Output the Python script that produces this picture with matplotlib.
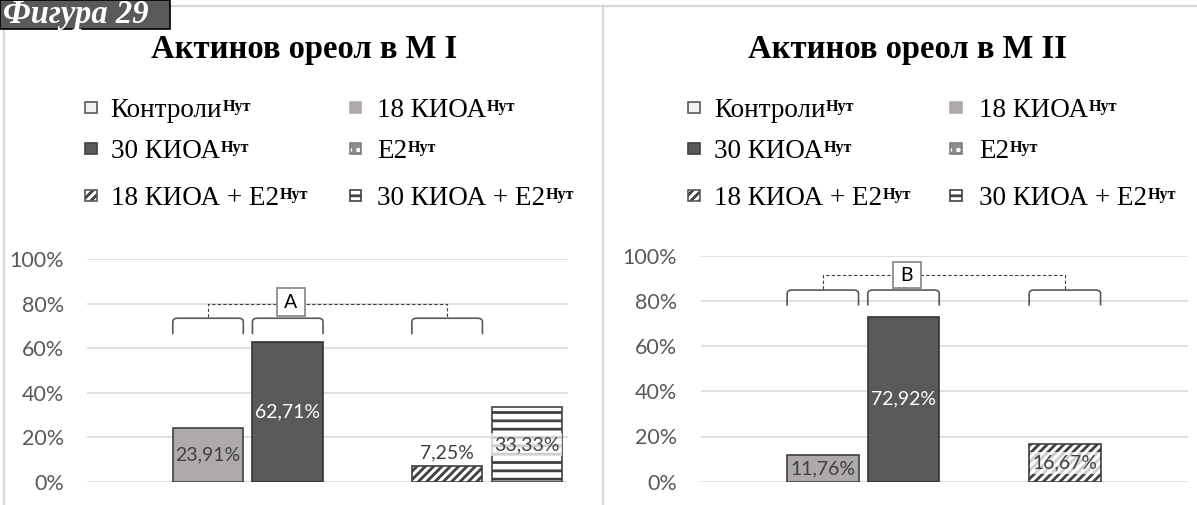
import matplotlib
matplotlib.use("Agg")
import matplotlib.pyplot as plt
from matplotlib.patches import Rectangle, PathPatch
from matplotlib.path import Path
from matplotlib.lines import Line2D

# ---------------- data ----------------
series = ["Контроли", "18 КИОА", "30 КИОА", "E2", "18 КИОА + E2", "30 КИОА + E2"]
superscript = "Нут"
m1_values = [0, 23.91, 62.71, 0, 7.25, 33.33]
m2_values = [0, 11.76, 72.92, 0, 16.67, 0]
panel_titles = ["Актинов ореол в М I", "Актинов ореол в М II"]
group_letters = ["A", "B"]
y_ticks = [0, 20, 40, 60, 80, 100]
figure_label = "Фигура 29"

# ---------------- styles ----------------
SERIF = "Liberation Serif"
SANS = "Lato"
W, H = 1197, 505

# face, hatch, hatch colour, outline colour
bar_styles = [
    ("#f2f2f2", None, None, "#595959"),
    ("#aeaaaa", None, None, "#404040"),
    ("#595959", None, None, "#333333"),
    ("#8c8c8c", "..", "white", "#7f7f7f"),
    ("white", "////", "#404040", "#404040"),
    ("white", "--", "#404040", "#404040"),
]
legend_edges = ["#595959", "#aeaaaa", "#404040", "#7f7f7f", "#595959", "#404040"]

plt.rcParams["hatch.linewidth"] = 2.0
plt.rcParams["axes.unicode_minus"] = False

fig = plt.figure(figsize=(W / 100, H / 100), dpi=100)


def fx(px):
    return px / W


def fy(py):
    return 1 - py / H


# chart frames
for seg in ([(0, 6), (W, 6)], [(4, 0), (4, H)], [(603, 6), (603, H)]):
    fig.add_artist(Line2D([fx(seg[0][0]), fx(seg[1][0])], [fy(seg[0][1]), fy(seg[1][1])],
                          color="#d9d9d9", lw=1.6, transform=fig.transFigure))

# figure caption plate
fig.add_artist(Rectangle((fx(0), fy(29)), fx(170), 29 / H, transform=fig.transFigure,
                         facecolor="#595959", edgecolor="black", lw=1.2, zorder=5))
fig.text(fx(3), fy(22.5), figure_label, family=SERIF, fontsize=23.5, fontweight="bold",
         fontstyle="italic", color="white", va="baseline", ha="left", zorder=6)

BAR_W = 0.885

panels = [
    dict(values=m1_values, rect=(87.3, 568.3, 259, 481.7), title_x=304,
         legend_cols=((85, 110.7), (350, 377)),
         bracket=(73.4, 66.2), conn=80.0, box=(80.6, 12.4, 0.36)),
    dict(values=m2_values, rect=(700.6, 1187.5, 255.7, 481.7), title_x=907,
         legend_cols=((688, 714), (950, 979)),
         bracket=(84.8, 77.9), conn=91.4, box=(91.3, 11.5, 0.35)),
]

legend_rows = [117, 158, 205]

for p_i, p in enumerate(panels):
    x0, x1, ytop, ybot = p["rect"]
    ax = fig.add_axes([fx(x0), fy(ybot), (x1 - x0) / W, (ybot - ytop) / H])
    ax.set_xlim(-0.515, 5.52)
    ax.set_ylim(0, 100)
    for s in ax.spines.values():
        s.set_visible(False)
    ax.set_xticks([])
    ax.set_yticks(y_ticks)
    ax.set_yticklabels([f"{t}%" for t in y_ticks])
    ax.tick_params(axis="y", length=0, pad=17, labelcolor="#595959", labelsize=15.5)
    for lab in ax.get_yticklabels():
        lab.set_family(SANS)
    ax.grid(axis="y", color="#d9d9d9", lw=1.1)
    ax.set_axisbelow(True)

    # bars
    for i, v in enumerate(p["values"]):
        if v <= 0:
            continue
        face, hatch, hcol, edge = bar_styles[i]
        if hatch:
            ax.bar(i, v, BAR_W, color=face, edgecolor=hcol, hatch=hatch, lw=0, zorder=2)
            ax.bar(i, v, BAR_W, fill=False, edgecolor=edge, lw=1.2, zorder=3)
        else:
            ax.bar(i, v, BAR_W, color=face, edgecolor=edge, lw=1.2, zorder=2)
        label = f"{v:.2f}%".replace(".", ",")
        col = "white" if i == 2 else "#404040"
        bbox = dict(facecolor="white", alpha=0.75, edgecolor="none", pad=2.0) if hatch else None
        if v < 10:
            ax.annotate(label, (i, v), xytext=(0, 3), textcoords="offset points",
                        ha="center", va="bottom", family=SANS, fontsize=14, color=col,
                        zorder=4)
        else:
            ax.text(i, v / 2, label, ha="center", va="center", family=SANS,
                    fontsize=14, color=col, bbox=bbox, zorder=4)

    # brackets over the compared bars
    btop, bleg = p["bracket"]
    rx, ry = 0.06, 1.6
    for i in (1, 2, 4):
        a, b = i - BAR_W / 2, i + BAR_W / 2
        verts = [(a, bleg), (a, btop - ry), (a, btop), (a + rx, btop), (b - rx, btop),
                 (b, btop), (b, btop - ry), (b, bleg)]
        codes = [Path.MOVETO, Path.LINETO, Path.CURVE3, Path.CURVE3, Path.LINETO,
                 Path.CURVE3, Path.CURVE3, Path.LINETO]
        ax.add_patch(PathPatch(Path(verts, codes), fill=False, edgecolor="#595959",
                               lw=1.2, clip_on=False, zorder=5))
    conn = p["conn"]
    ax.plot([1, 1, 4, 4], [btop + 0.6, conn, conn, btop + 0.6], color="#404040",
            lw=0.8, ls=(0, (3, 2)), clip_on=False, zorder=5)
    bc, bh, bw = p["box"]
    ax.add_patch(Rectangle((2.04 - bw / 2, bc - bh / 2), bw, bh, facecolor="white",
                           edgecolor="#8c8c8c", lw=1.3, clip_on=False, zorder=6))
    ax.text(2.04, bc, group_letters[p_i], ha="center", va="center", family=SANS,
            fontsize=14, color="black", zorder=7)

    # title
    fig.text(fx(p["title_x"]), fy(58), panel_titles[p_i], family=SERIF, fontsize=23.5,
             fontweight="bold", ha="center", va="baseline")

    # legend
    for k, name in enumerate(series):
        row, col = divmod(k, 2)
        mx, tx = p["legend_cols"][col]
        base = legend_rows[row]
        face, hatch, hcol, edge = bar_styles[k]
        size = 11.5
        my = base - 9.5
        rect_xy = (fx(mx), fy(my + size / 2))
        if hatch:
            fig.add_artist(Rectangle(rect_xy, size / W, size / H, transform=fig.transFigure,
                                     facecolor=face, edgecolor=hcol, hatch=hatch, lw=0))
            fig.add_artist(Rectangle(rect_xy, size / W, size / H, transform=fig.transFigure,
                                     fill=False, edgecolor=legend_edges[k], lw=1.2))
        else:
            fig.add_artist(Rectangle(rect_xy, size / W, size / H, transform=fig.transFigure,
                                     facecolor=face, edgecolor=legend_edges[k], lw=1.2))
        t = fig.text(fx(tx), fy(base), name, family=SERIF, fontsize=19.5,
                     ha="left", va="baseline")
        fig.add_artist(plt.Annotation(superscript, xy=(1, 0.97), xycoords=t,
                                      xytext=(0.5, 0), textcoords="offset points",
                                      ha="left", va="top", family=SERIF, fontsize=11.5,
                                      fontweight="bold"))

fig.savefig("out.png", dpi=100)
